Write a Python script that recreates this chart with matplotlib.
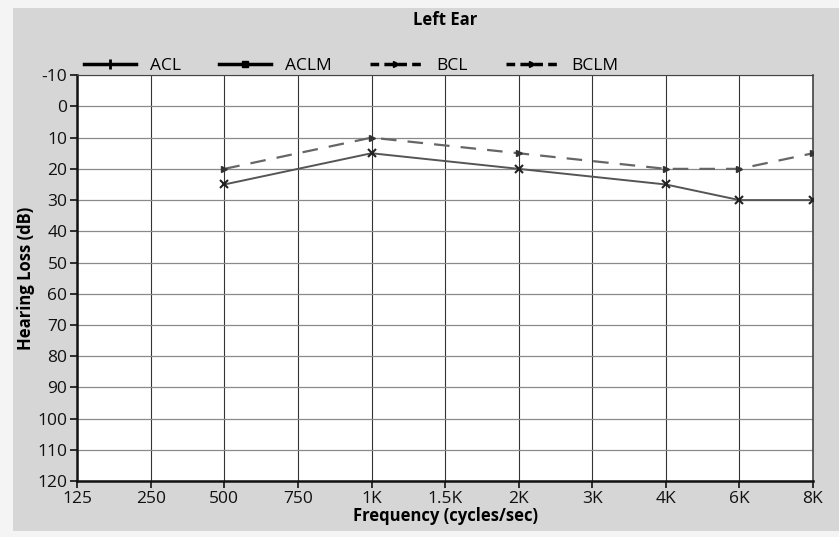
import matplotlib.pyplot as plt
from matplotlib.lines import Line2D
from matplotlib.patches import Rectangle

plt.rcParams['font.family'] = ['Open Sans', 'DejaVu Sans']

# frequencies (categorical, evenly spaced as in the chart)
freq_labels = ['125', '250', '500', '750', '1K', '1.5K', '2K', '3K', '4K', '6K', '8K']

# measured points: index into freq_labels, hearing loss in dB
acl_idx = [2, 4, 6, 8, 9, 10]
acl_db = [25, 15, 20, 25, 30, 30]
bcl_idx = [2, 4, 6, 8, 9, 10]
bcl_db = [20, 10, 15, 20, 20, 15]

y_ticks = list(range(-10, 121, 10))

fig = plt.figure(figsize=(8.39, 5.37), dpi=100)
fig.patch.set_facecolor('#f4f4f4')
fig.patches.append(Rectangle((0.015, 0.012), 0.985, 0.973, transform=fig.transFigure,
                             facecolor='#d6d6d6', edgecolor='none', zorder=-1))

ax = fig.add_axes([0.092, 0.104, 0.877, 0.756])
ax.set_facecolor('white')

x = list(range(len(freq_labels)))
ax.set_xlim(0, len(freq_labels) - 1)
ax.set_ylim(120, -10)
ax.set_xticks(x)
ax.set_xticklabels(freq_labels, fontsize=12.5)
ax.set_yticks(y_ticks)
ax.set_yticklabels([str(v) for v in y_ticks], fontsize=12.5)

# grid
for xi in x:
    ax.axvline(xi, color='#333333', lw=0.8, zorder=1)
for yv in y_ticks:
    ax.axhline(yv, color='#8a8a8a', lw=0.9, zorder=1)

ax.plot(acl_idx, acl_db, color='#555555', lw=1.4, marker='x', ms=6,
        mec='#222222', mew=1.5, zorder=3)
ax.plot(bcl_idx, bcl_db, color='#666666', lw=1.6, ls=(0, (7, 5)), marker='>',
        ms=5, mfc='#333333', mec='#333333', zorder=3)

for s in ['left', 'bottom']:
    ax.spines[s].set_linewidth(1.8)
    ax.spines[s].set_color('#111111')
ax.spines['top'].set_color('#444444')
ax.spines['right'].set_color('#444444')
ax.spines['right'].set_linewidth(1.2)
ax.tick_params(length=5, width=1.2, pad=2, colors='#111111')

ax.set_title('Left Ear', fontsize=12, fontweight='bold', pad=36)
ax.set_xlabel('Frequency (cycles/sec)', fontsize=12, fontweight='bold', labelpad=0)
ax.set_ylabel('Hearing Loss (dB)', fontsize=12, fontweight='bold', labelpad=2)

handles = [
    Line2D([], [], color='black', lw=2.5, marker='+', ms=7, mew=2),
    Line2D([], [], color='black', lw=2.5, marker='s', ms=5),
    Line2D([], [], color='black', lw=2.5, ls=(0, (2.5, 1.5)), marker='>', ms=5),
    Line2D([], [], color='black', lw=2.5, ls=(0, (2.5, 1.5)), marker='>', ms=5),
]
ax.legend(handles, ['ACL', 'ACLM', 'BCL', 'BCLM'], ncol=4, frameon=False,
          loc='lower left', bbox_to_anchor=(0.0, 0.985), fontsize=12.5,
          handlelength=3.0, columnspacing=2.2, borderaxespad=0)

fig.savefig('out.png', dpi=100, facecolor=fig.get_facecolor())
